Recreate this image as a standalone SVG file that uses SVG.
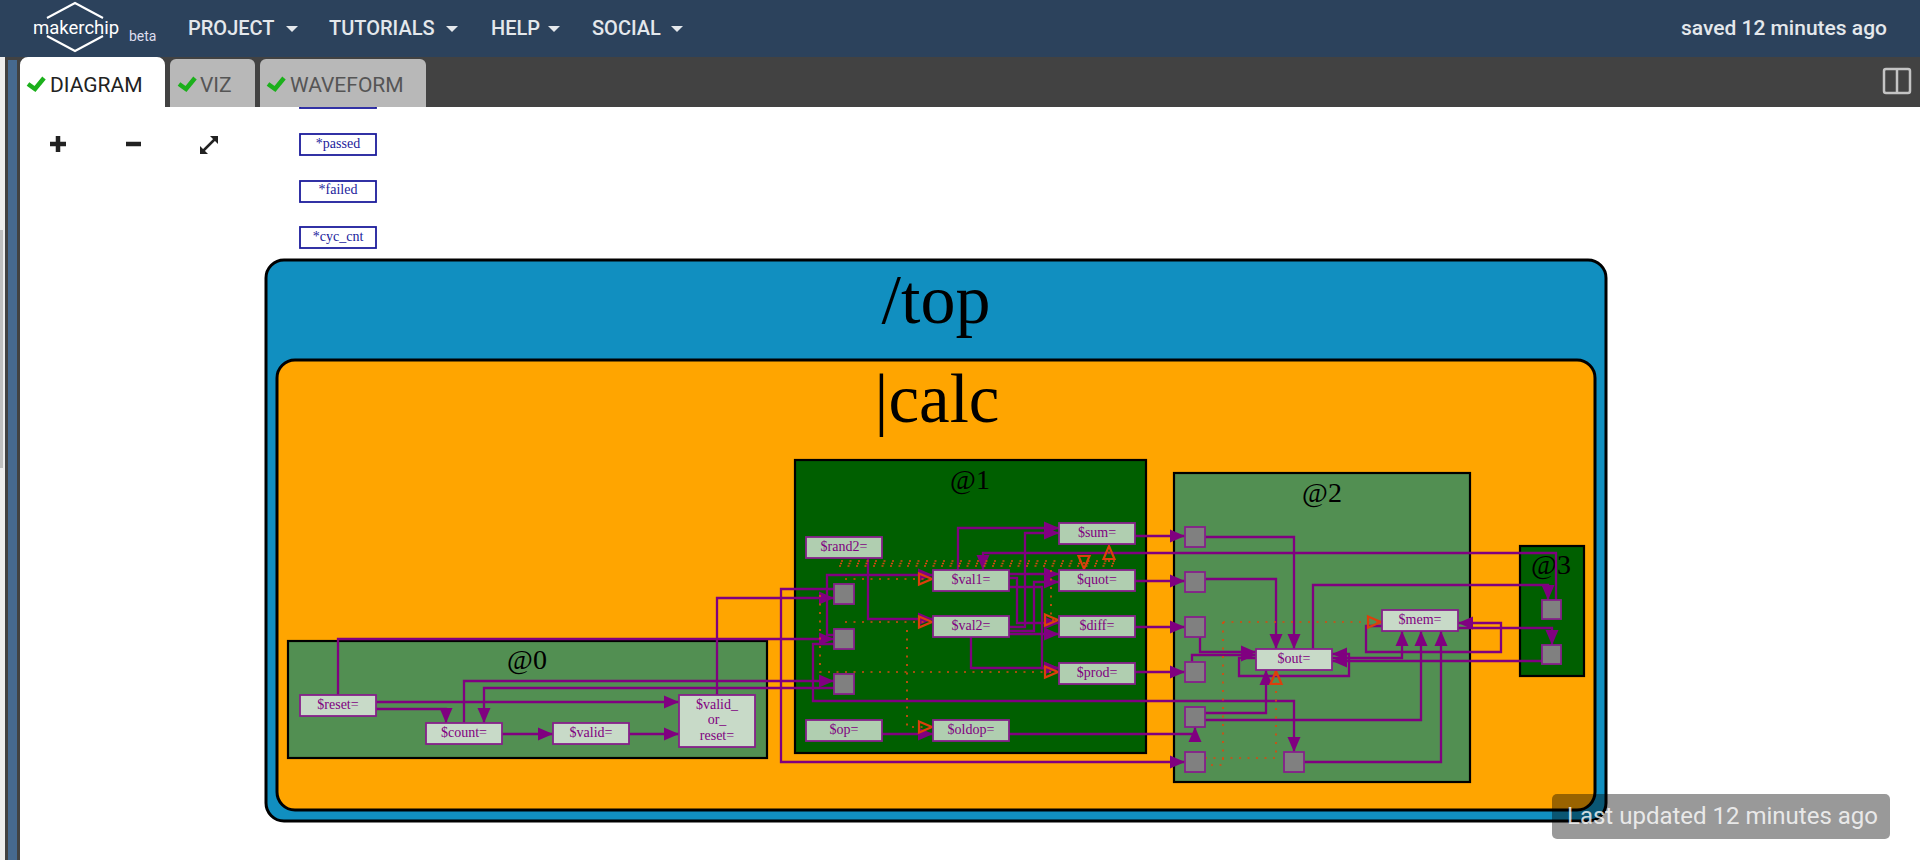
<svg xmlns="http://www.w3.org/2000/svg" width="1920" height="860" viewBox="0 0 1920 860">
<style>
.ui{font-family:Roboto,"Liberation Sans",sans-serif}
.sf{font-family:"Liberation Serif",serif}
.st{fill:#528f52;stroke:#000;stroke-width:2.200}
.dk{fill:#005f00;stroke:#000;stroke-width:2.200}
.lbl{font-size:28px;text-anchor:middle;fill:#000}
.big{font-size:70px;text-anchor:middle;fill:#000}
.n rect{stroke:#86208a;stroke-width:1.800}
.n text{font-family:"Liberation Serif",serif;font-size:14px;fill:#800080;text-anchor:middle}
.l{fill:#c8dac8}.d{fill:#b0ceb0}
.g{fill:#808080;stroke:#86208a;stroke-width:1.800}
.c path{fill:none;stroke:#800080;stroke-width:2.300;marker-end:url(#a)}
.x path{fill:none;stroke:#d84a10;stroke-width:1.700;stroke-dasharray:2 6.500}
.x path.o{marker-end:url(#o)}
.i rect{fill:#fff;stroke:#1c1c9c;stroke-width:1.800}
.i text{font-family:"Liberation Serif",serif;font-size:14px;fill:#1c1c9c;text-anchor:middle}
.m{fill:#e4e8ec;font-size:20px;font-weight:500}
.car{fill:#e4e8ec}
.chk{fill:none;stroke:#1cb01c;stroke-width:4.500}
</style>
<defs>
<marker id="a" markerUnits="userSpaceOnUse" markerWidth="18" markerHeight="18" refX="15" refY="6.500" orient="auto" overflow="visible"><path d="M0 0L15 6.500L0 13Z" fill="#800080"/></marker>
<marker id="o" markerUnits="userSpaceOnUse" markerWidth="18" markerHeight="16" refX="15" refY="6.500" orient="auto" overflow="visible"><path d="M1 1L14 6.500L1 12Z" fill="none" stroke="#dc3f0c" stroke-width="2.200"/></marker>
</defs>
<rect width="1920" height="860" fill="#fff"/>

<g id="diagram">
<g id="inputs" class="i">
<rect x="300" y="90" width="76" height="18"/>
<rect x="300" y="134" width="76" height="21"/><text x="338" y="148">*passed</text>
<rect x="300" y="181" width="76" height="21"/><text x="338" y="194">*failed</text>
<rect x="300" y="227" width="76" height="21"/><text x="338" y="241">*cyc_cnt</text>
</g>
<g id="top"><rect x="266" y="260" width="1340" height="561" rx="18" fill="#118fc0" stroke="#000" stroke-width="3"/><text class="sf big" x="936" y="323">/top</text></g>
<g id="calc"><rect x="277" y="360" width="1318" height="450" rx="18" fill="#ffa500" stroke="#000" stroke-width="3"/><text class="sf big" x="937" y="422" style="font-size:69px">|calc</text></g>
<g id="stage0"><rect class="st" x="288" y="641" width="479" height="117"/><text class="sf lbl" x="527" y="669">@0</text></g>
<g id="stage1"><rect class="dk" x="795" y="460" width="351" height="293"/><text class="sf lbl" x="970" y="489">@1</text></g>
<g id="stage2"><rect class="st" x="1174" y="473" width="296" height="309"/><text class="sf lbl" x="1322" y="502">@2</text></g>
<g id="stage3"><rect class="dk" x="1520" y="546" width="64" height="130"/><text class="sf lbl" x="1551" y="574">@3</text></g>

<g id="connectors" class="c">
<path d="M338 695V639H834"/>
<path d="M376 702H679"/>
<path d="M376 709H446V723"/>
<path d="M502 734H553"/>
<path d="M629 734H679"/>
<path d="M464 723V681H834"/>
<path d="M834 688H484V723"/>
<path d="M717 695V598H834"/>
<path d="M834 589H781V762H1185"/>
<path d="M834 644H813V701H1294V752"/>
<path d="M834 635H827V575H933"/>
<path d="M868 558V619H933"/>
<path d="M882 734H933"/>
<path d="M1009 734H1195V727"/>
<path d="M958 570V528H1059"/>
<path d="M1009 627H1025V533H1059"/>
<path d="M1009 574H1059"/>
<path d="M1009 578H1017V623H1059"/>
<path d="M1009 587H1042V668H1059"/>
<path d="M1009 631H1034V582H1059"/>
<path d="M1009 634H1059"/>
<path d="M971 637V668H1059"/>
<path d="M1135 536H1185"/>
<path d="M1135 581H1185"/>
<path d="M1135 627H1185"/>
<path d="M1135 672H1185"/>
<path d="M1556 600V553H983V570"/>
<path d="M1205 537H1294V649"/>
<path d="M1205 579H1276V649"/>
<path d="M1200 637V652H1256"/>
<path d="M1192 662V655H1256"/>
<path d="M1205 713H1266V670"/>
<path d="M1205 720H1421V631"/>
<path d="M1304 762H1441V631"/>
<path d="M1313 649V585H1548V600"/>
<path d="M1332 658H1402V631"/>
<path d="M1458 628H1552V645"/>
<path d="M1542 661H1332"/>
<path d="M1256 658H1239V676H1349V654H1332"/>
<path d="M1382 626H1366V652H1501V623H1458"/>
</g>

<g id="dotted" class="x">
<path d="M841 561H1115"/><path d="M840 563.500H1115"/><path d="M839 566H1115"/>
<path class="o" d="M845 579H933"/>
<path class="o" d="M845 622H933"/>
<path class="o" d="M907 630V727H933"/>
<path class="o" d="M820 595V672H1059"/>
<path class="o" d="M1051 570V608V620H1059"/>
<path class="o" d="M1084 562V570"/>
<path class="o" d="M1109 562V545"/>
<path class="o" d="M1223 622H1382"/>
<path d="M1223 622V765H1205"/>
<path class="o" d="M1205 758H1276V670"/>
</g>

<g id="reset" class="n"><rect class="l" x="300" y="695" width="76" height="21"/><text x="338" y="709">$reset=</text></g>
<g id="count" class="n"><rect class="l" x="426" y="723" width="76" height="21"/><text x="464" y="737">$count=</text></g>
<g id="valid" class="n"><rect class="l" x="553" y="723" width="76" height="21"/><text x="591" y="737">$valid=</text></g>
<g id="valid_or_reset" class="n"><rect class="l" x="679" y="695" width="76" height="52"/><text x="717" y="709">$valid_</text><text x="717" y="724">or_</text><text x="717" y="740">reset=</text></g>
<g id="rand2" class="n"><rect class="d" x="806" y="537" width="76" height="21"/><text x="844" y="551">$rand2=</text></g>
<g id="op" class="n"><rect class="d" x="806" y="720" width="76" height="21"/><text x="844" y="734">$op=</text></g>
<g id="val1" class="n"><rect class="d" x="933" y="570" width="76" height="21"/><text x="971" y="584">$val1=</text></g>
<g id="val2" class="n"><rect class="d" x="933" y="616" width="76" height="21"/><text x="971" y="630">$val2=</text></g>
<g id="oldop" class="n"><rect class="d" x="933" y="720" width="76" height="21"/><text x="971" y="734">$oldop=</text></g>
<g id="sum" class="n"><rect class="d" x="1059" y="523" width="76" height="21"/><text x="1097" y="537">$sum=</text></g>
<g id="quot" class="n"><rect class="d" x="1059" y="570" width="76" height="21"/><text x="1097" y="584">$quot=</text></g>
<g id="diff" class="n"><rect class="d" x="1059" y="616" width="76" height="21"/><text x="1097" y="630">$diff=</text></g>
<g id="prod" class="n"><rect class="d" x="1059" y="663" width="76" height="21"/><text x="1097" y="677">$prod=</text></g>
<g id="out" class="n"><rect class="l" x="1256" y="649" width="76" height="21"/><text x="1294" y="663">$out=</text></g>
<g id="mem" class="n"><rect class="l" x="1382" y="610" width="76" height="21"/><text x="1420" y="624">$mem=</text></g>
<g id="p1a"><rect class="g" x="834" y="584" width="20" height="20"/></g>
<g id="p1b"><rect class="g" x="834" y="629" width="20" height="20"/></g>
<g id="p1c"><rect class="g" x="834" y="674" width="20" height="20"/></g>
<g id="p2a"><rect class="g" x="1185" y="527" width="20" height="20"/></g>
<g id="p2b"><rect class="g" x="1185" y="572" width="20" height="20"/></g>
<g id="p2c"><rect class="g" x="1185" y="617" width="20" height="20"/></g>
<g id="p2d"><rect class="g" x="1185" y="662" width="20" height="20"/></g>
<g id="p2e"><rect class="g" x="1185" y="707" width="20" height="20"/></g>
<g id="p2f"><rect class="g" x="1185" y="752" width="20" height="20"/></g>
<g id="p2g"><rect class="g" x="1284" y="752" width="20" height="20"/></g>
<g id="p3a"><rect class="g" x="1542" y="600" width="19" height="19"/></g>
<g id="p3b"><rect class="g" x="1542" y="645" width="19" height="19"/></g>
</g>

<path d="M50 144h16M58 136v16" stroke="#222" stroke-width="4.500" fill="none"/>
<path d="M126 144h15" stroke="#222" stroke-width="4.500"/>
<path d="M203 151L215 139" stroke="#222" stroke-width="2.500" fill="none"/>
<path d="M200 154v-8l8 8zM218 136v8l-8-8z" fill="#222"/>

<g id="chrome">
<rect width="1920" height="57" fill="#2c425c"/>
<rect y="57" width="1920" height="50" fill="#424242"/>
<rect y="57" width="5" height="803" fill="#eee"/>
<rect y="230" width="3" height="238" fill="#c0c0c0"/>
<rect x="5" y="57" width="15" height="803" fill="#424242"/>
<rect x="8" y="60" width="9" height="800" fill="#46698f"/>
<path d="M20 860V65a8 8 0 0 1 8-8H157a8 8 0 0 1 8 8V107H20Z" fill="#fff"/>
<path d="M170 107V65a6 6 0 0 1 6-6H249a6 6 0 0 1 6 6V107Z" fill="#b8b8b8"/>
<path d="M260 107V65a6 6 0 0 1 6-6H420a6 6 0 0 1 6 6V107Z" fill="#b8b8b8"/>
<path class="chk" d="M28 84L35 89L44 78"/><path class="chk" d="M179 84L186 89L195 78"/><path class="chk" d="M268 84L275 89L284 78"/>
<text class="ui" x="50" y="92" font-size="21" fill="#222">DIAGRAM</text>
<text class="ui" x="200" y="92" font-size="21" fill="#555">VIZ</text>
<text class="ui" x="290" y="92" font-size="21" fill="#555">WAVEFORM</text>
<path d="M47 18L75 3L103 18M47 36L75 51L103 36" fill="none" stroke="#fff" stroke-width="2"/>
<text class="ui" x="33" y="34" font-size="18.500" fill="#fff">makerchip</text>
<text class="ui" x="129" y="41" font-size="14" fill="#dde">beta</text>
<text class="ui m" x="188" y="35">PROJECT</text><path class="car" d="M286 26h12l-6 6z"/>
<text class="ui m" x="329" y="35">TUTORIALS</text><path class="car" d="M446 26h12l-6 6z"/>
<text class="ui m" x="491" y="35">HELP</text><path class="car" d="M548 26h12l-6 6z"/>
<text class="ui m" x="592" y="35">SOCIAL</text><path class="car" d="M671 26h12l-6 6z"/>
<text class="ui m" x="1887" y="35" text-anchor="end" style="font-size:21px">saved 12 minutes ago</text>
<rect x="1884" y="69" width="26" height="24" rx="2" fill="none" stroke="#c4c4c4" stroke-width="2.500"/><path d="M1897 69v24" stroke="#c4c4c4" stroke-width="2.500"/>
</g>
<g id="toast"><rect x="1552" y="794" width="338" height="45" rx="5" fill="#000" fill-opacity=".4"/><text class="ui" x="1567" y="824" font-size="24" fill="#fff" fill-opacity=".8">Last updated 12 minutes ago</text></g>
</svg>
